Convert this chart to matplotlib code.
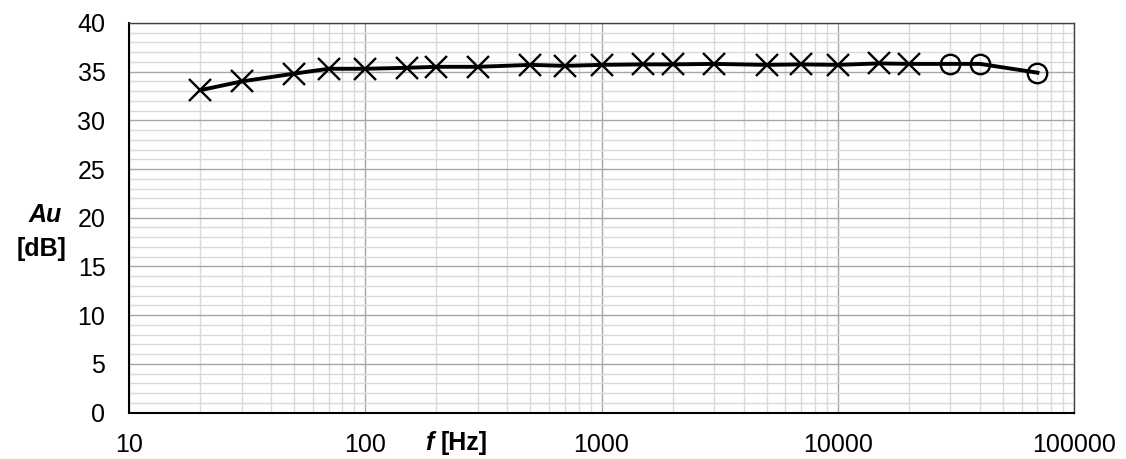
import matplotlib
matplotlib.use("Agg")
import matplotlib.pyplot as plt
from matplotlib.ticker import FixedLocator, NullFormatter, LogLocator, MultipleLocator

plt.rcParams['font.family'] = ['Liberation Sans', 'DejaVu Sans']

freq_x = [20, 30, 50, 70, 100, 150, 200, 300, 500, 700, 1000, 1500, 2000, 3000,
          5000, 7000, 10000, 15000, 20000]
gain_x = [33.1, 34.0, 34.8, 35.3, 35.3, 35.4, 35.5, 35.5, 35.7, 35.6, 35.7, 35.75,
          35.75, 35.8, 35.7, 35.75, 35.7, 35.85, 35.8]
freq_o = [30000, 40000, 70000]
gain_o = [35.8, 35.8, 34.9]

x_ticks = [10, 100, 1000, 10000, 100000]
x_tick_labels = ['10', '100', '1000', '10000', '100000']
y_ticks = [0, 5, 10, 15, 20, 25, 30, 35, 40]

FS = 18

fig = plt.figure(figsize=(11.26, 4.59), dpi=100)
ax = fig.add_axes([129/1126, 1-412.5/459, (1074-129)/1126, (412.5-23)/459])

ax.set_xscale('log')
ax.set_xlim(10, 100000)
ax.set_ylim(0, 40)

ax.xaxis.set_major_locator(FixedLocator(x_ticks))
ax.set_xticklabels(x_tick_labels)
ax.xaxis.set_minor_locator(LogLocator(base=10, subs=range(2, 10)))
ax.xaxis.set_minor_formatter(NullFormatter())
ax.yaxis.set_major_locator(FixedLocator(y_ticks))
ax.yaxis.set_minor_locator(MultipleLocator(1))

ax.grid(which='minor', color='#d9d9d9', linewidth=1.0)
ax.grid(which='major', color='#a6a6a6', linewidth=1.0)
ax.set_axisbelow(True)

ax.tick_params(which='both', length=0, labelsize=FS, colors='black')
ax.tick_params(axis='x', pad=15)
ax.tick_params(axis='y', pad=17)
for s in ax.spines.values():
    s.set_color('#404040')
    s.set_linewidth(1.0)
ax.spines['left'].set_color('black')
ax.spines['bottom'].set_color('black')
ax.spines['left'].set_linewidth(1.5)
ax.spines['bottom'].set_linewidth(1.5)

all_f = freq_x + freq_o
all_g = gain_x + gain_o
ax.plot(all_f, all_g, color='black', linewidth=2.8, zorder=3)
ax.plot(freq_x, gain_x, linestyle='none', marker='x', markersize=15.5,
        markeredgewidth=1.7, color='black', zorder=4)
ax.plot(freq_o, gain_o, linestyle='none', marker='o', markersize=14,
        markeredgewidth=1.7, markerfacecolor='none', markeredgecolor='black', zorder=4)

fig.text(45/1126, 1-215/459, 'Au', fontsize=FS, fontweight='bold', style='italic',
         ha='center', va='center')
fig.text(42/1126, 1-249/459, '[dB]', fontsize=FS, fontweight='bold',
         ha='center', va='center')
fig.text(433/1126, 1-443/459, 'f', fontsize=FS, fontweight='bold', style='italic',
         ha='right', va='center')
fig.text(441/1126, 1-443/459, '[Hz]', fontsize=FS, fontweight='bold',
         ha='left', va='center')

fig.savefig('out.png', dpi=100)
